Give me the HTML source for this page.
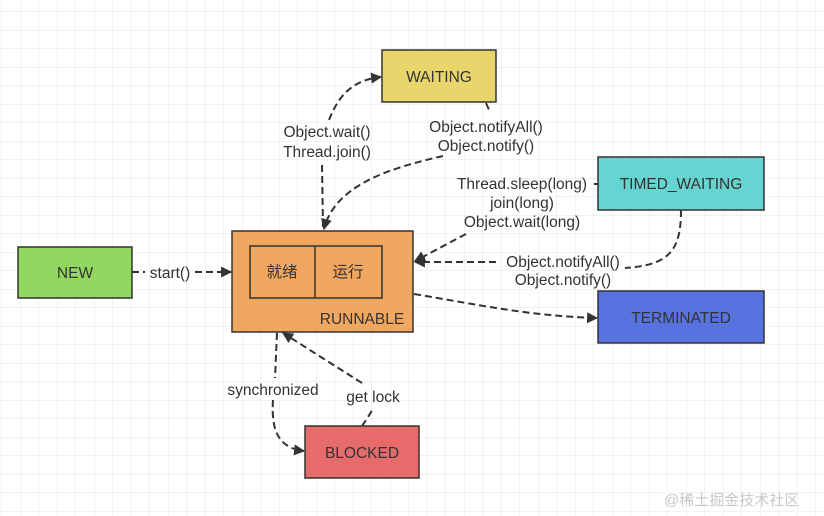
<!DOCTYPE html>
<html><head><meta charset="utf-8"><style>
html,body{margin:0;padding:0;background:#fff;}
svg{display:block;}
text{font-family:"Liberation Sans","Noto Sans CJK SC",sans-serif;fill:#333;font-size:15.5px;}
</style></head><body>
<svg width="824" height="516" viewBox="0 0 824 516" xmlns="http://www.w3.org/2000/svg">
<defs>
<pattern id="g" width="18.5" height="18.5" patternUnits="userSpaceOnUse" x="2" y="12">
<path d="M18.5 0V18.5M0 18.5H18.5" stroke="#e6e6e6" stroke-width="1" fill="none"/>
</pattern>
<marker id="a" viewBox="0 0 10 10" refX="9" refY="5" markerWidth="13" markerHeight="11" orient="auto" markerUnits="userSpaceOnUse">
<path d="M0 0L10 5L0 10z" fill="#333"/>
</marker>
</defs>
<rect width="824" height="516" fill="url(#g)"/>
<g fill="none" stroke="#333" stroke-width="2" stroke-dasharray="7,4">
<path d="M132 272H145"/>
<path d="M195 272H231" marker-end="url(#a)"/>
<path d="M323 227 L322 165"/>
<path d="M329 120 C340 92 355 80 381 77" marker-end="url(#a)"/>
<path d="M486 103 L490 112"/>
<path d="M443 156 C390 168 335 185 324 229" marker-end="url(#a)"/>
<path d="M594 184 L598 184"/>
<path d="M466 234 L415 261" marker-end="url(#a)"/>
<path d="M681 210 C681 250 670 265 625 268"/>
<path d="M496 262 L415 262" marker-end="url(#a)"/>
<path d="M414 294 C480 305 530 316 597 318" marker-end="url(#a)"/>
<path d="M277 333 L275 378"/>
<path d="M273 400 C271 430 278 448 304 451" marker-end="url(#a)"/>
<path d="M362 426 C366 420 371 413 373 408"/>
<path d="M362 383 L283 333" marker-end="url(#a)"/>
</g>
<g stroke="#333" stroke-width="1.5">
<rect x="18" y="247" width="114" height="51" fill="#92d860"/>
<rect x="232" y="231" width="181" height="101" fill="#f0a860"/>
<rect x="250" y="246" width="132" height="52" fill="#f0a860"/>
<line x1="315" y1="246" x2="315" y2="298"/>
<rect x="382" y="50" width="114" height="52" fill="#e8d66c"/>
<rect x="598" y="157" width="166" height="53" fill="#66d4d0"/>
<rect x="598" y="291" width="166" height="52" fill="#5673e0"/>
<rect x="305" y="426" width="114" height="52" fill="#e86b6b"/>
</g>
<g text-anchor="middle">
<text x="75" y="278">NEW</text>
<text x="282" y="277">就绪</text>
<text x="348" y="277">运行</text>
<text x="362" y="324">RUNNABLE</text>
<text x="439" y="82">WAITING</text>
<text x="681" y="189">TIMED_WAITING</text>
<text x="681" y="323">TERMINATED</text>
<text x="362" y="458">BLOCKED</text>
<text x="170" y="278">start()</text>
<text x="327" y="137">Object.wait()</text>
<text x="327" y="157">Thread.join()</text>
<text x="486" y="132">Object.notifyAll()</text>
<text x="486" y="151">Object.notify()</text>
<text x="522" y="189">Thread.sleep(long)</text>
<text x="522" y="208">join(long)</text>
<text x="522" y="227">Object.wait(long)</text>
<text x="563" y="267">Object.notifyAll()</text>
<text x="563" y="285">Object.notify()</text>
<text x="273" y="395">synchronized</text>
<text x="373" y="402">get lock</text>
</g>
<text x="664" y="505" style="fill:#c8c8c8;font-size:15px">@稀土掘金技术社区</text>
</svg>
</body></html>
